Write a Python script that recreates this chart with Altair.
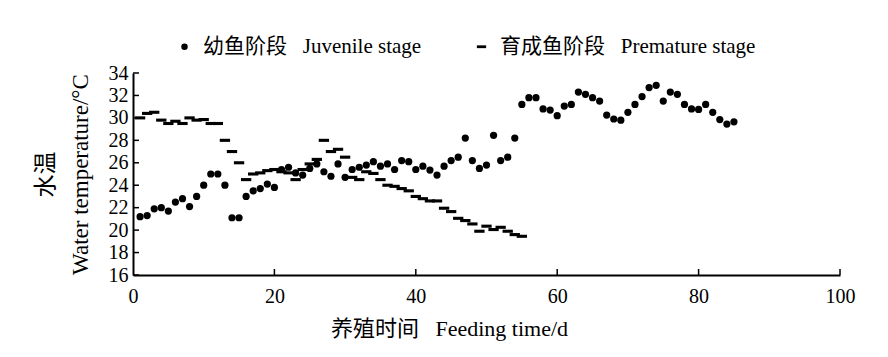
import altair as alt
import pandas as pd

# ---- data ----
days_juvenile = list(range(1, 86))
temp_juvenile = [
    21.2, 21.3, 21.9, 22.0, 21.7, 22.5, 22.8, 22.1, 23.0, 24.0,
    25.0, 25.0, 24.0, 21.1, 21.1, 23.0, 23.5, 23.7, 24.1, 23.8,
    25.4, 25.6, 25.1, 24.9, 25.5, 25.9, 25.2, 24.8, 25.9, 24.7,
    25.4, 25.6, 25.8, 26.1, 25.7, 25.9, 25.4, 26.2, 26.1, 25.4,
    25.7, 25.35, 24.9, 25.7, 26.2, 26.5, 28.2, 26.2, 25.5, 25.8,
    28.45, 26.2, 26.5, 28.2, 31.2, 31.8, 31.8, 30.8, 30.7, 30.2,
    31.05, 31.2, 32.3, 32.1, 31.8, 31.5, 30.25, 29.9, 29.8, 30.5,
    31.2, 31.9, 32.7, 32.9, 31.5, 32.3, 32.1, 31.2, 30.8, 30.75,
    31.2, 30.5, 29.85, 29.45, 29.65,
]
days_premature = list(range(1, 56))
temp_premature = [
    30.0, 30.4, 30.5, 29.8, 29.5, 29.7, 29.5, 30.0, 29.8, 29.85,
    29.5, 29.5, 28.0, 27.0, 26.0, 24.5, 25.0, 25.1, 25.3, 25.4,
    25.2, 25.1, 24.5, 25.4, 25.9, 26.3, 28.0, 27.0, 27.2, 26.5,
    24.7, 24.5, 25.2, 25.05, 24.5, 24.0, 23.9, 23.7, 23.5, 23.0,
    22.8, 22.6, 22.6, 21.95, 21.65, 21.05, 20.85, 20.55, 19.9, 20.35,
    20.05, 20.25, 19.9, 19.6, 19.45,
]
stage_names = ["幼鱼阶段\u2002 Juvenile stage", "育成鱼阶段\u2002 Premature stage"]
x_ticks = [0, 20, 40, 60, 80, 100]
y_ticks = [16, 18, 20, 22, 24, 26, 28, 30, 32, 34]

FONT = "Liberation Serif, Noto Sans CJK SC"
W, H = 707, 202
DASH = "M-1.43,-0.43H1.43V0.43H-1.43Z"

df = pd.DataFrame({
    "day": days_juvenile + days_premature,
    "temp": temp_juvenile + temp_premature,
    "stage": [stage_names[0]] * len(days_juvenile) + [stage_names[1]] * len(days_premature),
})

xscale = alt.Scale(domain=[0, 100], nice=False, zero=False)
yscale = alt.Scale(domain=[16, 34], nice=False, zero=False)

xaxis = alt.Axis(values=x_ticks, title="养殖时间\u2002 Feeding time/d",
                 tickSize=0, labelPadding=11, titlePadding=12,
                 labelFontSize=20, titleFontSize=22, grid=False, labelFlush=False,
                 titleX=316, titleAlign="center")
yaxis = alt.Axis(values=y_ticks, title=["水温", "Water temperature/°C"],
                 tickSize=0, labelPadding=5, titlePadding=16,
                 labelFontSize=20, titleFontSize=23, titleLineHeight=35,
                 grid=False, labelFlush=False)

points = alt.Chart(df).mark_point(filled=True, opacity=1, size=52, color="black").encode(
    x=alt.X("day:Q", scale=xscale, axis=xaxis),
    y=alt.Y("temp:Q", scale=yscale, axis=yaxis),
    shape=alt.Shape("stage:N",
                    scale=alt.Scale(domain=stage_names, range=["circle", DASH]),
                    legend=alt.Legend(title=None, orient="none", direction="horizontal",
                                      legendX=41, legendY=-37, labelFont=FONT,
                                      labelFontSize=21, labelLimit=0, symbolSize=42,
                                      symbolFillColor="black", symbolStrokeWidth=0,
                                      labelOffset=8, columnPadding=49, padding=0,
                                      labelColor="black")),
)

xt = alt.Chart(pd.DataFrame({"day": x_ticks[1:]})).mark_rule(color="black", strokeWidth=1.5).encode(
    x=alt.X("day:Q", scale=xscale, axis=xaxis),
    y=alt.value(H), y2=alt.value(H - 6),
)
yt = alt.Chart(pd.DataFrame({"temp": y_ticks})).mark_rule(color="black", strokeWidth=1.5).encode(
    y=alt.Y("temp:Q", scale=yscale, axis=yaxis),
    x=alt.value(0), x2=alt.value(6),
)

chart = alt.layer(points, xt, yt).properties(
    width=W, height=H,
    autosize=alt.AutoSizeParams(type="none"),
    padding={"left": 133, "top": 73, "right": 48, "bottom": 82},
).configure_view(stroke=None).configure_axis(
    labelFont=FONT, titleFont=FONT, labelColor="black", titleColor="black",
    domainColor="black", domainWidth=2, titleFontWeight="normal",
)

chart.save("out.html", embed_options={"renderer": "svg", "actions": False})
